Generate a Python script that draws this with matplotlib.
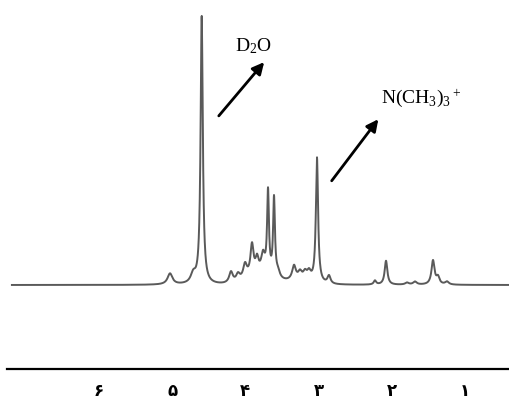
import numpy as np
import matplotlib
matplotlib.use("Agg")
from matplotlib import pyplot as plt

plt.rcParams['mathtext.fontset'] = 'custom'
plt.rcParams['mathtext.rm'] = 'Liberation Serif'
plt.rcParams['mathtext.it'] = 'Liberation Serif'

# Peaks of the 1H NMR spectrum (chemical shift in ppm, height, half width)
peakShift = [5.030, 4.713, 4.597, 4.197, 4.101, 4.005, 3.910, 3.841, 3.759,
             3.691, 3.609, 3.555, 3.336, 3.254, 3.186, 3.131, 3.022, 2.858,
             2.230, 2.079, 1.792, 1.683, 1.437, 1.369, 1.246]
peakHeight = [11, 9, 268, 11, 7, 14, 30, 14, 18,
              82, 78, 6, 14, 7, 7, 8, 125, 8,
              4, 24, 2, 3, 24, 7, 3]
peakWidth = [0.04, 0.04, 0.018, 0.03, 0.03, 0.03, 0.025, 0.025, 0.03,
             0.015, 0.015, 0.03, 0.03, 0.03, 0.03, 0.03, 0.018, 0.025,
             0.02, 0.022, 0.03, 0.03, 0.025, 0.025, 0.03]

# Broad humps under the multiplets
humpShift = [3.79, 3.25]
humpHeight = [10, 4]
humpWidth = [0.18, 0.15]

tickShift = [6, 5, 4, 3, 2, 1]
tickLabels = ['۶', '۵', '۴', '۳', '۲', '۱']

# Build spectrum
ppm = np.linspace(7.19, 0.385, 3000)
intensity = np.zeros_like(ppm)
for c, h, w in zip(peakShift, peakHeight, peakWidth):
    intensity += h / (1 + ((ppm - c) / w) ** 2)
for c, h, w in zip(humpShift, humpHeight, humpWidth):
    intensity += h * np.exp(-0.5 * ((ppm - c) / w) ** 2)

fig = plt.figure(figsize=(5.1, 4.0), dpi=100)
ax = fig.add_axes([7 / 510, 31 / 400, 503 / 510, 369 / 400])

ax.plot(ppm, intensity, color='#5a5a5a', linewidth=1.4)

ax.set_xlim(7.257, 0.385)
ax.set_ylim(-84, 285)

# Only the bottom axis line is shown
for side in ['top', 'left', 'right']:
    ax.spines[side].set_visible(False)
ax.spines['bottom'].set_linewidth(1.6)
ax.set_yticks([])
ax.set_xticks(tickShift)
ax.set_xticklabels(tickLabels, fontsize=12, fontweight='bold',
                   family=['DejaVu Sans'])
ax.tick_params(axis='x', length=0, pad=9)

# Annotations with arrows
arrowStyle = dict(arrowstyle='-|>,head_width=0.35,head_length=0.7',
                  color='black', lw=2)
ax.annotate('', xy=(3.719, 225), xytext=(4.388, 167), arrowprops=arrowStyle)
ax.text(4.142, 234, r'D$_2$O', fontsize=14, family='Liberation Serif',
        ha='left', va='baseline')

ax.annotate('', xy=(2.161, 168), xytext=(2.844, 102), arrowprops=arrowStyle)
ax.text(2.148, 182, r'N(CH$_3$)$_3$$^+$', fontsize=14,
        family='Liberation Serif', ha='left', va='baseline')

fig.savefig('out.png', dpi=100)
